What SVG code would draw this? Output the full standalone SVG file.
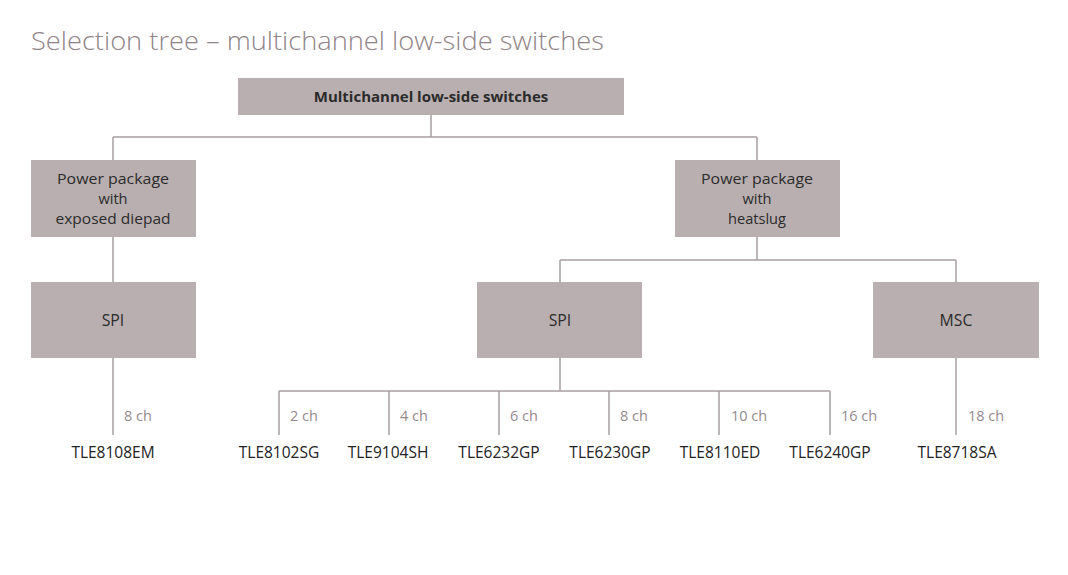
<svg xmlns="http://www.w3.org/2000/svg" width="1068" height="575" viewBox="0 0 1068 575">
<style>
.box{fill:#b9afb0}
.t{font-family:"Open Sans","Noto Sans","Liberation Sans",sans-serif;font-size:15.8px;fill:#2b2b2b;text-anchor:middle}
.m{font-size:14.6px}
.b{font-weight:bold;font-size:15px}
.ch{font-family:"Open Sans","Noto Sans","Liberation Sans",sans-serif;font-size:14.5px;fill:#948a8d}
.p{font-family:"Open Sans","Noto Sans","Liberation Sans",sans-serif;font-size:15.5px;fill:#222;text-anchor:middle}
.c{stroke:#a89fa1;stroke-width:1.5;fill:none}
</style>
<rect width="1068" height="575" fill="#fff"/>
<text x="31" y="50" font-family="Open Sans, Noto Sans, Liberation Sans, sans-serif" font-weight="300" font-size="26" fill="#8f8487" textLength="573" lengthAdjust="spacingAndGlyphs">Selection tree – multichannel low-side switches</text>
<g id="connectors" class="c">
<path d="M431 115V137M113 137H757M113 137V160M757 137V160"/>
<path d="M113 237V282"/>
<path d="M757 237V260M560 260H956M560 260V282M956 260V282"/>
<path d="M113 358V435"/>
<path d="M560 358V391M279 391H830M279 391V435M389 391V435M499 391V435M609 391V435M719 391V435M830 391V435"/>
<path d="M956 358V435"/>
</g>
<g id="root"><rect class="box" x="238" y="78" width="386" height="37"/><text class="t b" x="431" y="102">Multichannel low-side switches</text></g>
<g id="pp-diepad"><rect class="box" x="31" y="160" width="165" height="77"/><text class="t m" x="113" y="184" textLength="112" lengthAdjust="spacingAndGlyphs">Power package</text><text class="t m" x="113" y="204">with</text><text class="t m" x="113" y="224" textLength="115" lengthAdjust="spacingAndGlyphs">exposed diepad</text></g>
<g id="pp-heatslug"><rect class="box" x="675" y="160" width="165" height="77"/><text class="t m" x="757" y="184" textLength="112" lengthAdjust="spacingAndGlyphs">Power package</text><text class="t m" x="757" y="204">with</text><text class="t m" x="757" y="224">heatslug</text></g>
<g id="spi-left"><rect class="box" x="31" y="282" width="165" height="76"/><text class="t" x="113" y="326">SPI</text></g>
<g id="spi-mid"><rect class="box" x="477" y="282" width="165" height="76"/><text class="t" x="560" y="326">SPI</text></g>
<g id="msc"><rect class="box" x="873" y="282" width="166" height="76"/><text class="t" x="956" y="326">MSC</text></g>
<g id="labels">
<text class="ch" x="124" y="421">8 ch</text>
<text class="ch" x="290" y="421">2 ch</text>
<text class="ch" x="400" y="421">4 ch</text>
<text class="ch" x="510" y="421">6 ch</text>
<text class="ch" x="620" y="421">8 ch</text>
<text class="ch" x="731" y="421">10 ch</text>
<text class="ch" x="841" y="421">16 ch</text>
<text class="ch" x="968" y="421">18 ch</text>
</g>
<g id="parts">
<text class="p" x="113" y="458">TLE8108EM</text>
<text class="p" x="279" y="458">TLE8102SG</text>
<text class="p" x="388" y="458">TLE9104SH</text>
<text class="p" x="499" y="458">TLE6232GP</text>
<text class="p" x="610" y="458">TLE6230GP</text>
<text class="p" x="720" y="458">TLE8110ED</text>
<text class="p" x="830" y="458">TLE6240GP</text>
<text class="p" x="957" y="458">TLE8718SA</text>
</g>
</svg>
